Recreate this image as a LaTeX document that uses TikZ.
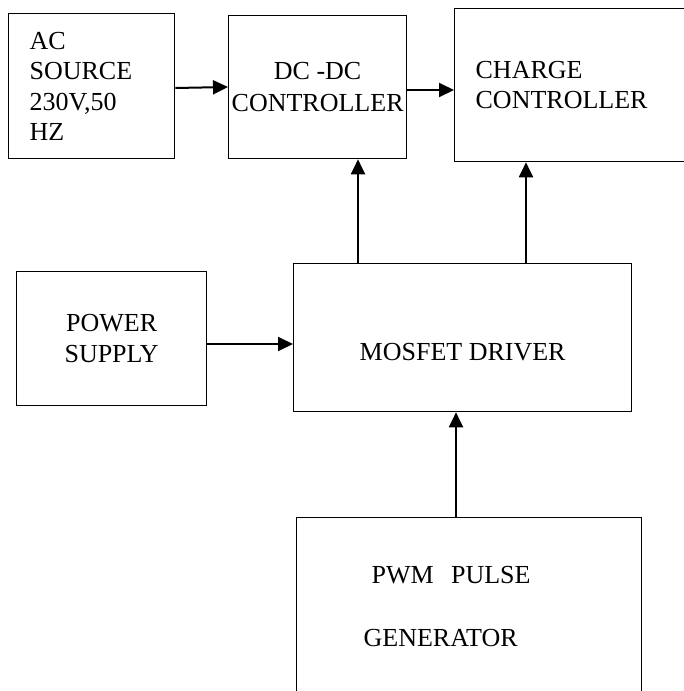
\documentclass[tikz,border=0pt]{standalone}
\usepackage{fontspec}
\setmainfont{Liberation Serif}
\usetikzlibrary{arrows.meta}

\begin{document}
\begin{tikzpicture}[x=1pt,y=-1pt,
  blk/.style={draw,rectangle,line width=1.3pt,inner sep=0pt,anchor=north west,
    font=\fontsize{26}{30.5}\selectfont},
  arr/.style={line width=2pt,-{Triangle[length=15pt,width=14pt]}}]
  \useasboundingbox (0,0) rectangle (683,691);
  \node[blk,minimum height=145pt,text width=124pt,inner xsep=21pt,align=left] (ac) at (8,13)
    {AC\\SOURCE\\230V,50\\HZ};
  \node[blk,minimum width=178pt,minimum height=143pt,align=center] (dcdc) at (228,15)
    {DC -DC\\[1.5pt]CONTROLLER};
  \node[blk,minimum height=153pt,text width=190pt,inner xsep=21pt,align=left] (chg) at (454,8)
    {CHARGE\\CONTROLLER};
  \node[blk,minimum width=190pt,minimum height=134pt,align=center] (pwr) at (16,271)
    {POWER\\SUPPLY};
  \node[blk,minimum width=338pt,minimum height=148pt,text height=45pt,text depth=0pt] (drv) at (293,263)
    {MOSFET DRIVER};
  \node[blk,minimum height=178pt,text width=211pt,inner xsep=67pt,align=left] (pwm) at (296,517)
    {\hspace*{8pt}PWM\ \ PULSE\\[33pt]GENERATOR};
  \draw[arr] (ac.east |- 0,88) -- (dcdc.west |- 0,87);
  \draw[arr] (dcdc.east |- 0,90) -- (chg.west |- 0,90);
  \draw[arr] (drv.north -| 358,0) -- (dcdc.south -| 358,0);
  \draw[arr] (drv.north -| 526,0) -- (chg.south -| 526,0);
  \draw[arr] (pwr.east |- 0,344) -- (drv.west |- 0,344);
  \draw[arr] (pwm.north -| 456,0) -- (drv.south -| 456,0);
\end{tikzpicture}
\end{document}
